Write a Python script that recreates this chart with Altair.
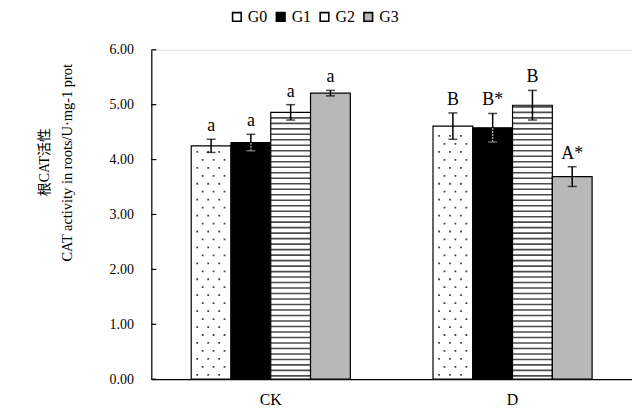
import altair as alt
import pandas as pd

categories = ["CK", "D"]
groups = ["G0", "G1", "G2", "G3"]
ck_means = [4.25, 4.31, 4.86, 5.21]
ck_errs = [0.12, 0.15, 0.14, 0.05]
ck_letters = ["a", "a", "a", "a"]
d_means = [4.61, 4.58, 4.99, 3.69]
d_errs = [0.24, 0.26, 0.27, 0.18]
d_letters = ["B", "B*", "B", "A*"]
y_ticks = [0, 1, 2, 3, 4, 5, 6]
fill_colors = ["#ffffff", "#000000", "#ffffff", "#b8b8b8"]
title_cn = "根CAT活性"
title_en = "CAT activity in roots/U·mg-1 prot"

rows = []
for cat, means, errs, letters in [("CK", ck_means, ck_errs, ck_letters),
                                  ("D", d_means, d_errs, d_letters)]:
    for g, m, e, l in zip(groups, means, errs, letters):
        rows.append({"cat": cat, "grp": g, "mean": m, "lo": m - e, "hi": m + e, "lab": l})
df = pd.DataFrame(rows)

SERIF = "Liberation Serif, Times New Roman, serif"
CJK = "Liberation Serif, 'Noto Sans CJK SC', serif"

xenc = alt.X("cat:N", sort=categories,
             scale=alt.Scale(paddingInner=0.342, paddingOuter=0.165),
             axis=alt.Axis(title=None, labelAngle=0, ticks=False, domainColor="black",
                           domainWidth=1.2, labelFont=SERIF, labelFontSize=16,
                           labelColor="black", labelPadding=12))
xoff = alt.XOffset("grp:N", sort=groups, scale=alt.Scale(paddingInner=0, paddingOuter=0))
yscale = alt.Scale(domain=[0, 6])

base = alt.Chart(df).encode(x=xenc, xOffset=xoff)

bars = base.mark_bar(stroke="black", strokeWidth=1.2).encode(
    y=alt.Y("mean:Q", scale=yscale,
            axis=alt.Axis(values=y_ticks, format=".2f", grid=False, ticks=False,
                          domainColor="black", domainWidth=1.2,
                          labelFont=SERIF, labelFontSize=14, labelColor="black",
                          labelPadding=18,
                          title=title_en, titleFont=SERIF, titleFontSize=14.5,
                          titleFontWeight="normal", titleColor="black",
                          titleX=-84, titleY=113, titleAngle=270,
                          titleAlign="center", titleBaseline="middle")),
    fill=alt.Fill("grp:N", sort=groups,
                  scale=alt.Scale(domain=groups, range=fill_colors),
                  legend=alt.Legend(title=None, orient="none", direction="horizontal",
                                    legendX=78, legendY=-41, symbolType="square",
                                    symbolSize=75, symbolStrokeColor="black",
                                    symbolStrokeWidth=1.6, labelFont=SERIF,
                                    labelFontSize=16, labelColor="black",
                                    labelOffset=3, columnPadding=5)),
)

stripes = base.transform_filter(alt.datum.grp == "G2").transform_calculate(
    s="sequence(0.06, datum.mean - 0.02, 0.1)"
).transform_flatten(["s"]).mark_tick(
    orient="horizontal", size=40, thickness=1.6, color="black"
).encode(y=alt.Y("s:Q", scale=yscale))

dot_even = "M-0.74,-0.045h0.09v0.09h-0.09z M-0.19,-0.045h0.09v0.09h-0.09z M0.36,-0.045h0.09v0.09h-0.09z"
dot_odd = "M-0.47,-0.045h0.09v0.09h-0.09z M0.08,-0.045h0.09v0.09h-0.09z M0.63,-0.045h0.09v0.09h-0.09z"

dots_a = base.transform_filter(alt.datum.grp == "G0").transform_calculate(
    s="sequence(0.08, datum.mean - 0.05, 0.29)"
).transform_flatten(["s"]).mark_point(
    shape=dot_even, size=1600, filled=True, color="#444", opacity=1
).encode(y=alt.Y("s:Q", scale=yscale))

dots_b = base.transform_filter(alt.datum.grp == "G0").transform_calculate(
    s="sequence(0.225, datum.mean - 0.05, 0.29)"
).transform_flatten(["s"]).mark_point(
    shape=dot_odd, size=1600, filled=True, color="#444", opacity=1
).encode(y=alt.Y("s:Q", scale=yscale))

err_color = alt.condition(alt.datum.grp == "G1", alt.value("#9a9a9a"), alt.value("black"))

err_rule = base.mark_rule(color="black", strokeWidth=1.5).encode(
    y=alt.Y("lo:Q", scale=yscale), y2="hi:Q")
err_inner = base.transform_filter(alt.datum.grp == "G1").mark_rule(
    color="#9a9a9a", strokeWidth=1.5, strokeDash=[2, 1]).encode(
    y=alt.Y("lo:Q", scale=yscale), y2="mean:Q")
cap_hi = base.mark_tick(orient="horizontal", size=9, thickness=1.5, color="black").encode(
    y=alt.Y("hi:Q", scale=yscale))
cap_lo = base.mark_tick(orient="horizontal", size=9, thickness=1.5).encode(
    y=alt.Y("lo:Q", scale=yscale), color=err_color)

letters = base.mark_text(baseline="bottom", dy=-4, font=SERIF, fontSize=18,
                         color="black").encode(
    y=alt.Y("hi:Q", scale=yscale), text="lab:N")

ticks = alt.Chart(pd.DataFrame({"t": y_ticks})).mark_rule(color="black", strokeWidth=1.2).encode(
    y=alt.Y("t:Q", scale=yscale), x=alt.value(0), x2=alt.value(5))

cn_title = alt.Chart(pd.DataFrame({"t": [title_cn]})).mark_text(
    font=CJK, fontSize=14, color="black", angle=270, align="center", baseline="middle"
).encode(text="t:N", x=alt.value(-107), y=alt.value(113))

chart = alt.layer(bars, stripes, dots_a, dots_b, err_rule, err_inner, cap_hi, cap_lo,
                  letters, ticks, cn_title).properties(
    width=483, height=331,
    autosize=alt.AutoSizeParams(type="none"),
    padding={"left": 144, "top": 41, "right": 0, "bottom": 33},
).configure_view(stroke=None).configure(background="white")

chart.save("out.html", embed_options={"renderer": "svg", "actions": False})
